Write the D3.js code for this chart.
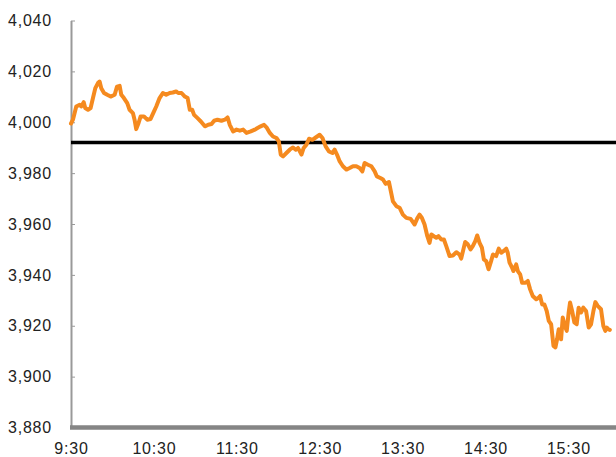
<!DOCTYPE html>
<html>
<head>
<meta charset="utf-8">
<script src="https://cdn.jsdelivr.net/npm/d3@7"></script>
<style>
  body { margin: 0; background: #fff; }
  svg text { font-family: "Liberation Sans", Arial, sans-serif; fill: #222; }
</style>
</head>
<body>
<div id="chart"></div>
<script>
// minutes after 9:30 open
const minutes = [0,1.4,3.8,6.3,7.4,9.2,10.3,12.3,14.2,15.9,17.6,19.5,20.7,21.9,23.9,26.2,28.7,31.6,33.3,35.2,
  36.4,38.3,40.7,42.4,44.8,46.0,47.2,48.9,50.4,52.8,55.2,57.6,60.0,61.7,64.1,66.5,68.9,71.4,73.7,76.1,
  77.6,80.0,82.4,84.4,86.0,87.7,89.1,91.6,94.0,96.9,99.3,101.7,103.6,106.0,108.9,111.3,113.3,114.9,117.3,119.8,
  122.2,124.6,127.0,130.1,133.0,135.0,137.3,139.7,141.5,143.9,146.2,148.7,150.4,151.8,
  153.5,155.9,158.3,160.7,162.7,164.3,166.8,168.4,170.4,172.3,174.7,177.1,180.0,182.0,184.3,186.7,189.2,190.8,192.5,194.5,
  196.8,199.3,201.7,204.1,206.5,208.9,210.9,212.5,214.9,217.4,219.8,221.4,223.9,225.8,227.7,230.1,
  233.0,235.5,237.8,240.2,242.7,245.8,248.7,250.6,252.3,254.0,255.9,257.9,259.5,260.8,262.6,264.4,266.0,268.0,269.9,271.6,
  274.0,276.4,278.9,281.2,282.4,284.3,285.3,287.2,289.2,290.8,292.6,294.0,295.7,297.4,298.8,300.5,302.2,304.0,305.4,
  307.7,309.6,311.4,313.0,315.0,316.1,317.4,319.3,320.2,322.2,323.4,325.1,326.5,328.9,330.6,332.3,334.2,336.7,338.5,339.5,
  341.0,342.6,344.3,345.8,347.5,349.2,350.6,351.8,353.0,354.7,355.9,357.8,358.8,360.2,361.2,362.7,364.3,366.0,367.4,369.2,
  370.8,372.8,374.7,376.4,378.1,379.5,381.2,383.6,385.3,386.7,387.7,389.0,390];

const prices = [3999.5,4001.0,4006.2,4006.9,4006.2,4007.9,4005.6,4004.9,4005.6,4009.5,4013.4,4015.4,4016.0,4013.4,4011.5,4010.8,4010.1,4010.8,4014.0,4014.3,
  4010.8,4009.5,4007.5,4004.9,4003.6,4001.0,3997.3,3999.7,4002.3,4002.3,4001.0,4001.3,4004.2,4006.2,4009.5,4011.5,4010.8,4011.5,4011.7,4012.1,
  4011.5,4011.5,4010.1,4009.5,4004.9,4004.9,4002.9,4001.6,4000.3,3998.4,3999.0,3999.3,4000.6,4001.0,4000.6,4001.0,4001.9,3999.0,3996.4,3997.1,
  3996.7,3997.1,3995.8,3996.4,3997.1,3997.7,3998.4,3999.0,3998.0,3995.8,3994.4,3993.8,3992.5,3987.3,
  3986.6,3987.9,3989.2,3990.1,3989.2,3989.9,3987.3,3989.9,3991.2,3993.5,3993.1,3994.0,3995.1,3993.8,3990.5,3988.5,3987.9,3989.2,3987.3,3984.6,
  3982.7,3981.4,3982.0,3982.7,3982.7,3982.0,3980.7,3984.0,3983.3,3982.7,3980.7,3978.7,3978.1,3977.5,3975.8,3976.5,
  3968.9,3967.0,3966.4,3963.7,3962.4,3962.0,3959.8,3962.2,3963.7,3962.4,3959.8,3955.2,3952.6,3955.9,3955.2,3954.6,3955.2,3953.9,3953.9,3951.3,
  3947.4,3947.6,3948.9,3948.0,3946.4,3950.7,3952.9,3952.0,3950.0,3951.3,3953.3,3955.5,3952.6,3950.7,3946.1,3945.4,3942.2,3945.3,3948.0,
  3947.4,3950.3,3948.7,3949.3,3950.3,3948.7,3944.8,3942.8,3941.5,3944.1,3941.5,3940.2,3936.9,3936.9,3937.6,3934.3,3931.7,3930.4,3931.1,3931.7,
  3928.4,3928.4,3925.8,3921.9,3920.6,3912.1,3911.5,3914.7,3918.6,3914.7,3923.2,3919.3,3918.0,3925.2,3929.1,3925.8,3921.3,3920.6,3927.1,3925.2,
  3927.1,3925.8,3919.3,3920.6,3925.8,3929.3,3927.8,3926.5,3919.9,3918.0,3919.3,3918.6,3918.4];

const prevClose = 3992;
const yTicks = [3880, 3900, 3920, 3940, 3960, 3980, 4000, 4020, 4040];
const xTicks = [0, 60, 120, 180, 240, 300, 360];
const xLabels = ["9:30", "10:30", "11:30", "12:30", "13:30", "14:30", "15:30"];

const width = 616, height = 457;
const marginLeft = 71, plotTop = 20.5, plotBottom = 427.5;

const data = minutes.map((m, i) => ({ m: m, p: prices[i] }));

const svg = d3.select("#chart").append("svg")
  .attr("width", width)
  .attr("height", height);

const x = d3.scaleLinear().domain([0, 390]).range([marginLeft, marginLeft + 390 * 82.9 / 60]);
const y = d3.scaleLinear().domain([3880, 4040]).range([plotBottom, plotTop]);

// y axis
const yAxis = svg.append("g")
  .attr("transform", `translate(${marginLeft},0)`)
  .call(d3.axisLeft(y).tickValues(yTicks).tickFormat(d3.format(","))
    .tickSizeInner(-4).tickSizeOuter(0).tickPadding(19));
yAxis.select(".domain").attr("stroke", "#999").attr("stroke-width", 2);
yAxis.selectAll(".tick line").attr("stroke", "#999").attr("stroke-width", 1);
yAxis.selectAll("text")
  .style("font-size", "16px")
  .style("letter-spacing", "0.8px")
  .attr("fill", "#222");

// x axis labels
const xAxis = svg.append("g")
  .attr("transform", `translate(0,${plotBottom})`)
  .call(d3.axisBottom(x).tickValues(xTicks).tickFormat((d, i) => xLabels[i])
    .tickSize(0).tickPadding(15.5));
xAxis.select(".domain").remove();
xAxis.selectAll("text")
  .style("font-size", "16px")
  .style("letter-spacing", "0.8px")
  .attr("fill", "#222");

// x baseline
svg.append("line")
  .attr("x1", marginLeft - 1).attr("x2", width)
  .attr("y1", y(3880)).attr("y2", y(3880))
  .attr("stroke", "#858585")
  .attr("stroke-width", 4.5);

// previous close
svg.append("line")
  .attr("x1", marginLeft).attr("x2", width)
  .attr("y1", y(prevClose)).attr("y2", y(prevClose))
  .attr("stroke", "#000")
  .attr("stroke-width", 3.5);

const line = d3.line()
  .x(d => x(d.m))
  .y(d => y(d.p));

svg.append("path")
  .datum(data)
  .attr("d", line)
  .attr("fill", "none")
  .attr("stroke", "#f58a1f")
  .attr("stroke-width", 4)
  .attr("stroke-linejoin", "round")
  .attr("stroke-linecap", "round");
</script>
</body>
</html>
